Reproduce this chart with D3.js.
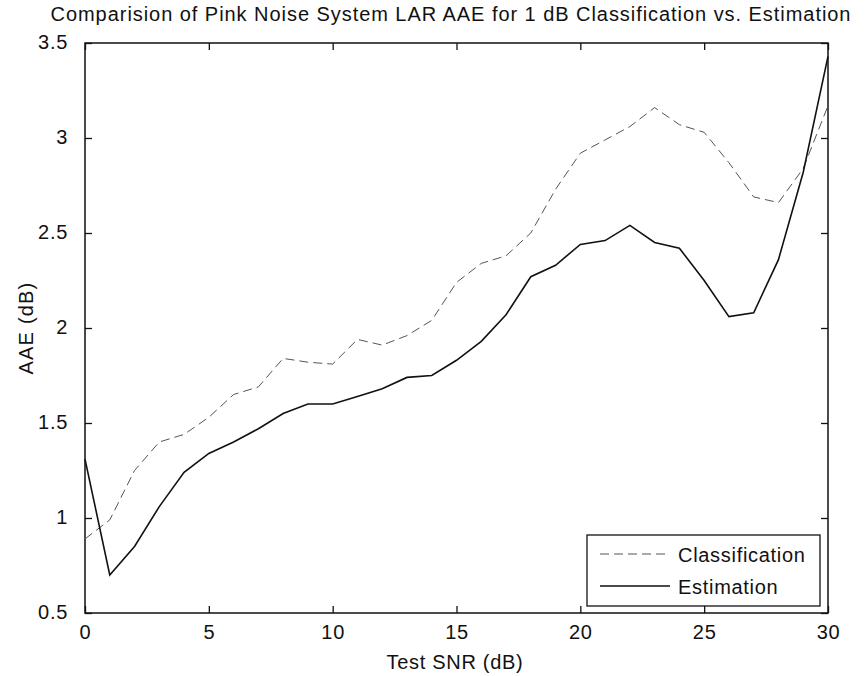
<!DOCTYPE html>
<html><head><meta charset="utf-8">
<script src="https://cdn.jsdelivr.net/npm/d3@7/dist/d3.min.js"></script>
<style>body{margin:0;background:#fff}text{font-family:"Liberation Sans",Arial,sans-serif;fill:#111;letter-spacing:0.7px}</style>
</head><body><svg id="c" width="867" height="676"></svg>
<script>
const snr = d3.range(0, 31);
const classification = [0.89,0.99,1.25,1.40,1.44,1.53,1.65,1.69,1.84,1.82,1.81,1.94,1.91,1.96,2.04,2.24,2.34,2.38,2.50,2.73,2.92,2.99,3.06,3.16,3.07,3.03,2.87,2.69,2.66,2.84,3.17];
const estimation = [1.31,0.70,0.85,1.06,1.24,1.34,1.40,1.47,1.55,1.60,1.60,1.64,1.68,1.74,1.75,1.83,1.93,2.07,2.27,2.33,2.44,2.46,2.54,2.45,2.42,2.25,2.06,2.08,2.36,2.82,3.43];
const xTicks = [0,5,10,15,20,25,30];
const yTicks = [0.5,1,1.5,2,2.5,3,3.5];
const title = "Comparision of Pink Noise System LAR AAE for 1 dB Classification vs. Estimation";

const L=85,R=828,T=43,B=613;
const svg=d3.select("#c");
const x=d3.scaleLinear().domain([0,30]).range([L,R]);
const y=d3.scaleLinear().domain([0.5,3.5]).range([B,T]);
const fs=20;

svg.append("rect").attr("x",L).attr("y",T).attr("width",R-L).attr("height",B-T).attr("fill","none").attr("stroke","#111").attr("stroke-width",1.5);

const axB=svg.append("g").attr("transform",`translate(0,${B})`).call(d3.axisBottom(x).tickValues(xTicks).tickSizeInner(-7).tickSizeOuter(0).tickPadding(12).tickFormat(d3.format("d")));
const axT=svg.append("g").attr("transform",`translate(0,${T})`).call(d3.axisTop(x).tickValues(xTicks).tickSizeInner(-7).tickSizeOuter(0).tickFormat(""));
const axL=svg.append("g").attr("transform",`translate(${L},0)`).call(d3.axisLeft(y).tickValues(yTicks).tickSizeInner(-7).tickSizeOuter(0).tickPadding(17).tickFormat(d=>d3.format("")(d)));
const axR=svg.append("g").attr("transform",`translate(${R},0)`).call(d3.axisRight(y).tickValues(yTicks).tickSizeInner(-7).tickSizeOuter(0).tickFormat(""));
[axB,axT,axL,axR].forEach(g=>{g.select(".domain").remove();g.selectAll("line").attr("stroke","#111").attr("stroke-width",1.3);g.selectAll("text").attr("font-size",fs).attr("font-family","Liberation Sans, Arial, sans-serif").attr("fill","#111");});
axL.selectAll("text").attr("dy","0.25em");

const line=d3.line().x((d,i)=>x(snr[i])).y(d=>y(d));
svg.append("path").datum(classification).attr("d",line).attr("fill","none").attr("stroke","#555").attr("stroke-width",1).attr("stroke-dasharray","9,5");
svg.append("path").datum(estimation).attr("d",line).attr("fill","none").attr("stroke","#111").attr("stroke-width",1.6);

svg.append("text").attr("x",451).attr("y",21).attr("text-anchor","middle").attr("font-size",fs).style("letter-spacing","0.95px").text(title);
svg.append("text").attr("x",455).attr("y",669).attr("text-anchor","middle").attr("font-size",fs).text("Test SNR (dB)");
svg.append("text").attr("transform",`translate(33,328) rotate(-90)`).attr("text-anchor","middle").attr("font-size",fs).style("letter-spacing","1.2px").text("AAE (dB)");

const lg=svg.append("g");
lg.append("rect").attr("x",587).attr("y",535).attr("width",233).attr("height",71).attr("fill","#fff").attr("stroke","#111").attr("stroke-width",1.3);
const items=[{n:"Classification",dash:"9,5",c:"#555",w:1},{n:"Estimation",dash:null,c:"#111",w:1.6}];
items.forEach((it,i)=>{const yy=554+i*32;
 lg.append("line").attr("x1",600).attr("x2",670).attr("y1",yy).attr("y2",yy).attr("stroke",it.c).attr("stroke-width",it.w).attr("stroke-dasharray",it.dash);
 lg.append("text").attr("x",678).attr("y",yy+8).attr("font-size",fs).text(it.n);
});
</script></body></html>
